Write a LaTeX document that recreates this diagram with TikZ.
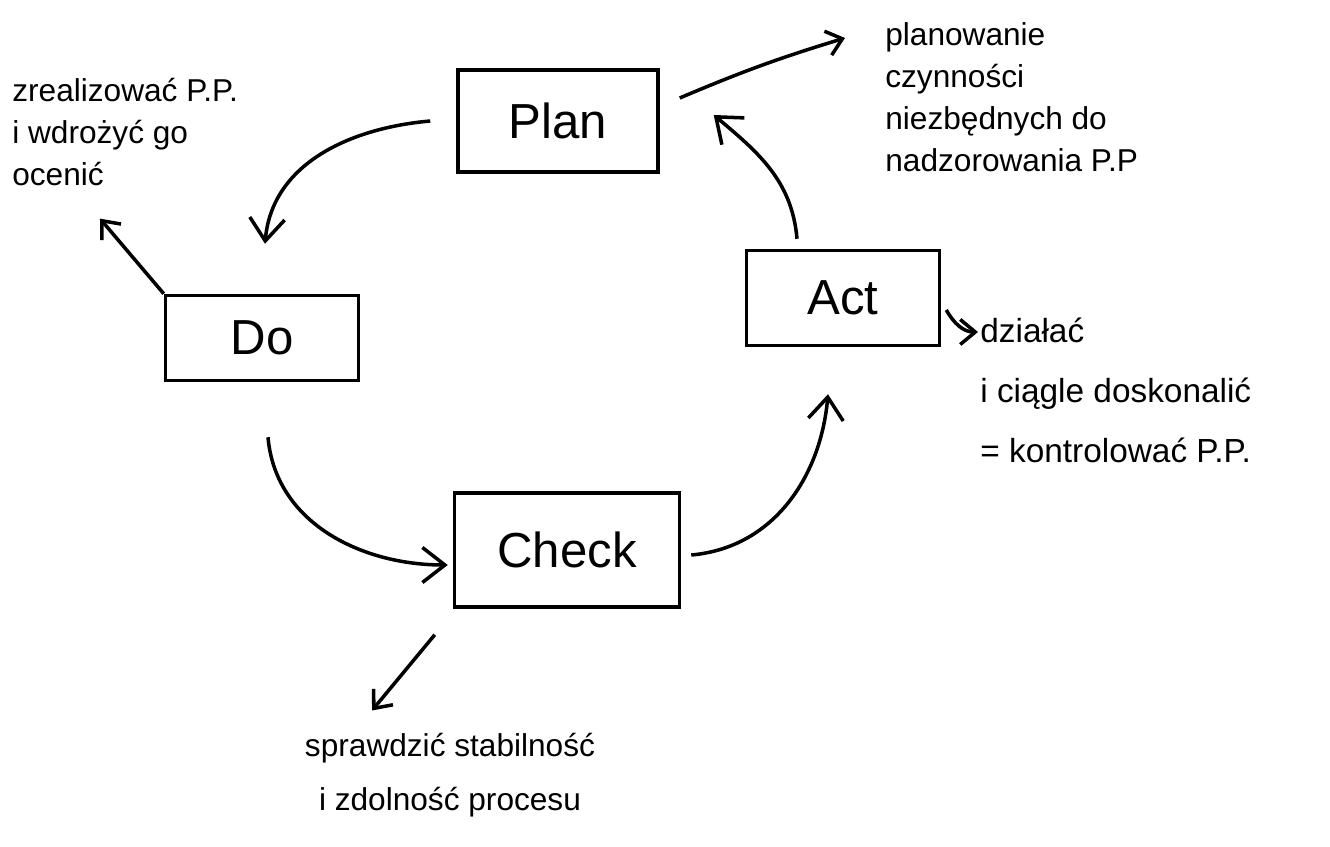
\documentclass[tikz,border=0pt]{standalone}
\usepackage{fontspec}
\setmainfont{Liberation Sans}
\usetikzlibrary{arrows.meta}
\begin{document}
\begin{tikzpicture}[x=0.02cm,y=-0.02cm,
  box/.style={draw, line width=2pt, rectangle, font=\fontsize{28}{32}\selectfont},
  note/.style={inner sep=0pt, font=\fontsize{18}{24}\selectfont},
  arr/.style={line width=2pt, -{Straight Barb[length=4.5mm,width=7mm]}},
  sarr/.style={line width=2pt, -{Straight Barb[length=3mm,width=5mm]}}]
\useasboundingbox (0,0) rectangle (1330,847);
\node[box, minimum width=4cm, minimum height=2.04cm] (plan) at (558,121) {Plan};
\node[box, minimum width=3.86cm, minimum height=1.7cm] (do) at (262,338) {Do};
\node[box, minimum width=4.5cm, minimum height=2.28cm] (check) at (567,550) {Check};
\node[box, minimum width=3.86cm, minimum height=1.9cm] (act) at (843,298) {Act};
\node[note, align=left, anchor=north west] (doNote) at (12,78) {zrealizować P.P.\\i wdrożyć go\\ocenić};
\node[note, align=left, anchor=north west] (planNote) at (885,22) {planowanie\\czynności\\niezbędnych do\\nadzorowania P.P};
\node[note, align=left, anchor=north west, font=\fontsize{19}{34}\selectfont] (actNote) at (980,318) {działać\\i ciągle doskonalić\\= kontrolować P.P.};
\node[note, align=center, font=\fontsize{18}{31}\selectfont] (checkNote) at (450,775) {sprawdzić stabilność\\i zdolność procesu};
\draw[arr] ([xshift=-0.52cm]plan.west) to[out=185,in=85] ([xshift=0.06cm,yshift=1cm]do.north);
\draw[arr] ([xshift=0.12cm,yshift=-1.1cm]do.south) to[out=-85,in=180] ([xshift=-0.1cm,yshift=-0.3cm]check.west);
\draw[arr] ([xshift=0.2cm,yshift=-0.1cm]check.east) to[out=5,in=-95] ([xshift=-0.3cm,yshift=-0.94cm]act.south);
\draw[arr] ([xshift=-0.92cm,yshift=0.2cm]act.north) to[out=95,in=-40] ([xshift=1.08cm,yshift=0.12cm]plan.east);
\draw[sarr] ([xshift=0.4cm,yshift=0.46cm]plan.east) to[bend left=3] ([xshift=-0.8cm,yshift=-0.32cm]planNote.north west);
\draw[sarr] (do.north west) -- ([xshift=1.76cm,yshift=-0.64cm]doNote.south west);
\draw[sarr] ([xshift=0.1cm,yshift=-0.24cm]act.east) to[out=-60,in=180] ([xshift=-0.04cm,yshift=-0.28cm]actNote.north west);
\draw[sarr] ([xshift=-0.36cm,yshift=-0.52cm]check.south west) -- ([xshift=-1.56cm,yshift=0.44cm]checkNote.north);
\end{tikzpicture}
\end{document}
